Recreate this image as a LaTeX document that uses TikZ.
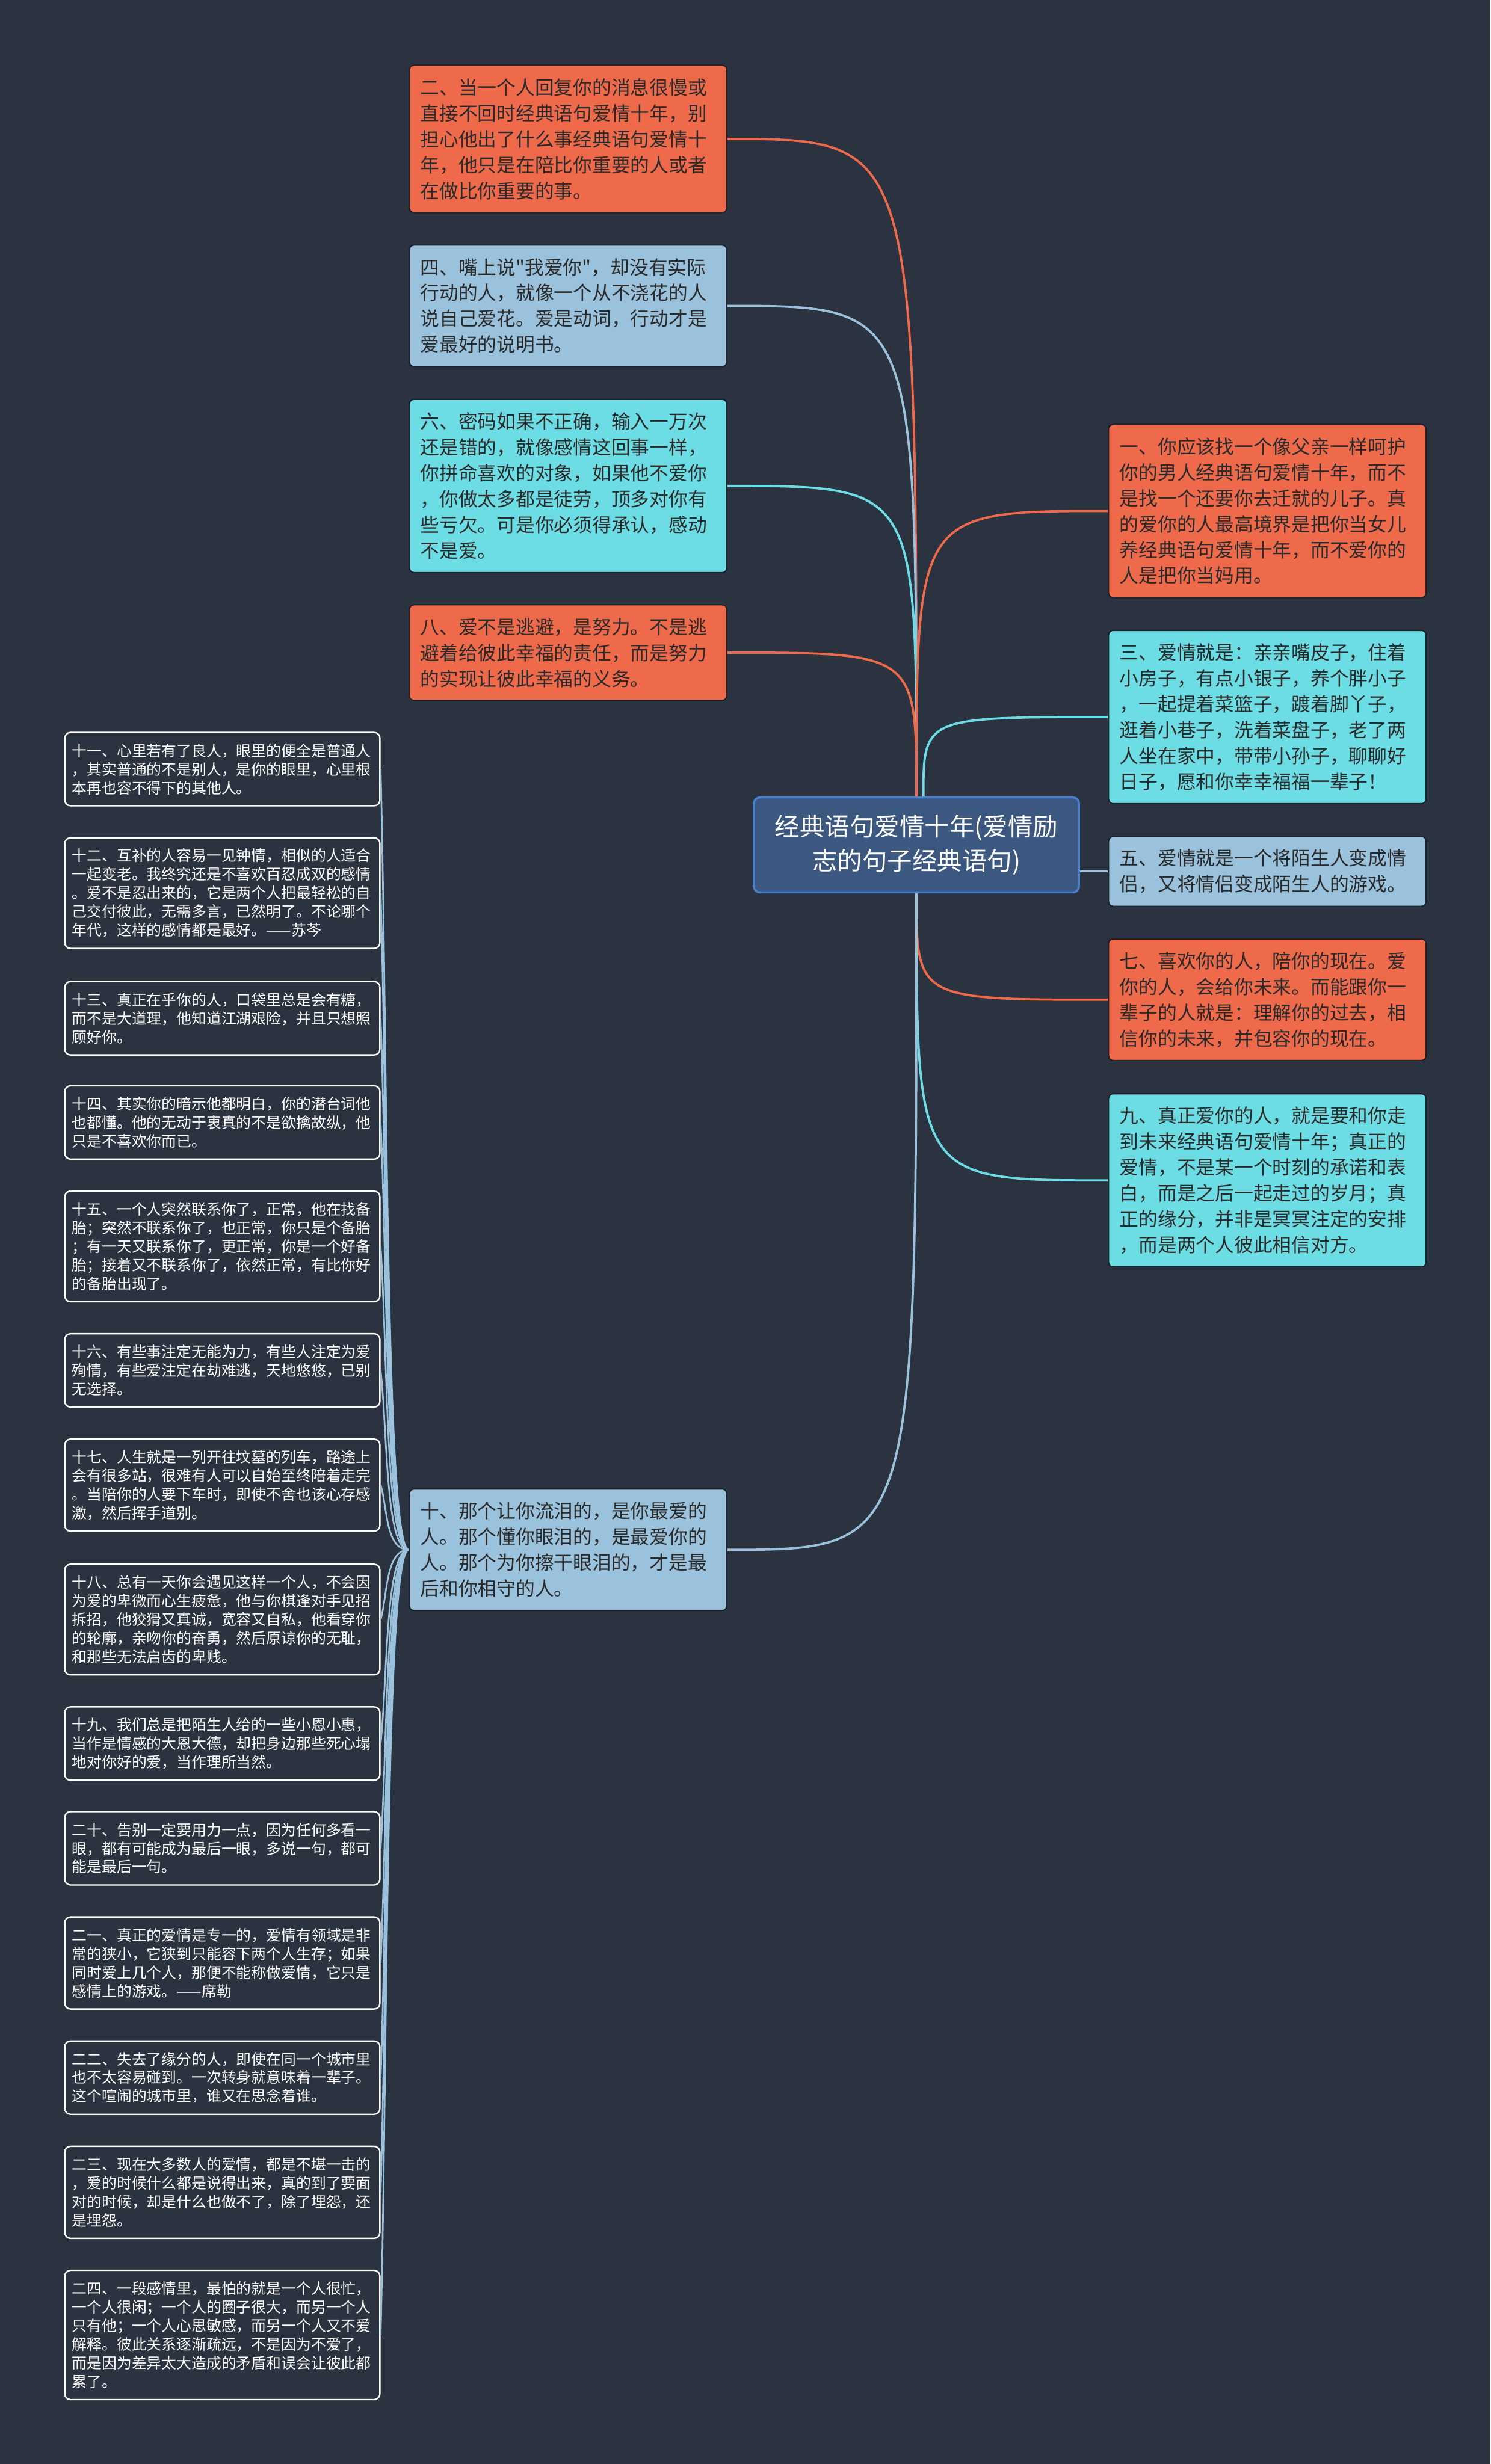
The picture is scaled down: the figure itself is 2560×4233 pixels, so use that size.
\documentclass[tikz,border=0pt]{standalone}
\usepackage{fontspec}
\setmainfont{Noto Sans CJK SC}
\newfontfamily\cjk{Noto Sans CJK SC}
\usetikzlibrary{calc}
\definecolor{bg}{HTML}{2B3240}
\definecolor{org}{HTML}{EF6A4B}
\definecolor{lbl}{HTML}{9BC2DD}
\definecolor{cyn}{HTML}{6CDDE5}
\definecolor{cfill}{HTML}{3C5880}
\definecolor{cborder}{HTML}{4A7FCC}
\definecolor{txt}{HTML}{2A2A2A}
\definecolor{edge}{HTML}{1C212B}
\begin{document}
\begin{tikzpicture}[x=0.01cm,y=-0.01cm,
  base/.style={anchor=north west, align=left, rounded corners=0.08cm,
    inner xsep=0.19cm, inner ysep=0cm, text width=5.07cm,
    font=\cjk\fontsize{9.33pt}{12.63pt}\selectfont, text=txt,
    draw=edge, line width=0.6pt, minimum height={#1*0.444cm+0.31cm}},
  boxo/.style={base=#1, fill=org},
  boxb/.style={base=#1, fill=lbl},
  boxc/.style={base=#1, fill=cyn},
  lbox/.style={anchor=north west, align=left, rounded corners=0.1cm,
    draw=white, line width=0.7pt, fill=bg, text=white,
    font=\cjk\fontsize{7.3pt}{9.1pt}\selectfont, text width=5.16cm,
    inner xsep=0.125cm, inner ysep=0cm, minimum height={#1*0.32cm+0.3cm}},
  cnode/.style={minimum width=5.58cm, minimum height=1.63cm, fill=cfill,
    draw=cborder, line width=1pt, rounded corners=0.1cm, text=white,
    align=center, font=\cjk\fontsize{12.2pt}{16.8pt}\selectfont},
  lo/.style={draw=org, line width=1.1pt},
  lb/.style={draw=lbl, line width=1.1pt},
  lc/.style={draw=cyn, line width=1.1pt},
  fan/.style={draw=lbl, line width=0.8pt}
]
\fill[bg] (0,0) rectangle (2560,4233);
\useasboundingbox (0,0) rectangle (2560,4233);

% centre
\node[cnode] (c) at (1574,1451.5) {经典语句爱情十年(爱情励\\志的句子经典语句)};

% top-left column
\node[boxo=5] (n2) at (702,111) {二、当一个人回复你的消息很慢或\\直接不回时经典语句爱情十年，别\\担心他出了什么事经典语句爱情十\\年，他只是在陪比你重要的人或者\\在做比你重要的事。};
\node[boxb=4] (n4) at (702,420) {四、嘴上说"我爱你"，却没有实际\\行动的人，就像一个从不浇花的人\\说自己爱花。爱是动词，行动才是\\爱最好的说明书。};
\node[boxc=6] (n6) at (702,685) {六、密码如果不正确，输入一万次\\还是错的，就像感情这回事一样，\\你拼命喜欢的对象，如果他不爱你\\，你做太多都是徒劳，顶多对你有\\些亏欠。可是你必须得承认，感动\\不是爱。};
\node[boxo=3] (n8) at (702,1038) {八、爱不是逃避，是努力。不是逃\\避着给彼此幸福的责任，而是努力\\的实现让彼此幸福的义务。};
\node[boxb=4] (n10) at (702,2557) {十、那个让你流泪的，是你最爱的\\人。那个懂你眼泪的，是最爱你的\\人。那个为你擦干眼泪的，才是最\\后和你相守的人。};

% right column
\node[boxo=6] (n1) at (1903,728) {一、你应该找一个像父亲一样呵护\\你的男人经典语句爱情十年，而不\\是找一个还要你去迁就的儿子。真\\的爱你的人最高境界是把你当女儿\\养经典语句爱情十年，而不爱你的\\人是把你当妈用。};
\node[boxc=6] (n3) at (1903,1082) {三、爱情就是：亲亲嘴皮子，住着\\小房子，有点小银子，养个胖小子\\，一起提着菜篮子，踱着脚丫子，\\逛着小巷子，洗着菜盘子，老了两\\人坐在家中，带带小孙子，聊聊好\\日子，愿和你幸幸福福一辈子！};
\node[boxb=2] (n5) at (1903,1436) {五、爱情就是一个将陌生人变成情\\侣，又将情侣变成陌生人的游戏。};
\node[boxo=4] (n7) at (1903,1612) {七、喜欢你的人，陪你的现在。爱\\你的人，会给你未来。而能跟你一\\辈子的人就是：理解你的过去，相\\信你的未来，并包容你的现在。};
\node[boxc=6] (n9) at (1903,1878) {九、真正爱你的人，就是要和你走\\到未来经典语句爱情十年；真正的\\爱情，不是某一个时刻的承诺和表\\白，而是之后一起走过的岁月；真\\正的缘分，并非是冥冥注定的安排\\，而是两个人彼此相信对方。};

% left column
\node[lbox=3] (m11) at (110,1257) {十一、心里若有了良人，眼里的便全是普通人\\，其实普通的不是别人，是你的眼里，心里根\\本再也容不得下的其他人。};
\node[lbox=5] (m12) at (110,1438) {十二、互补的人容易一见钟情，相似的人适合\\一起变老。我终究还是不喜欢百忍成双的感情\\。爱不是忍出来的，它是两个人把最轻松的自\\己交付彼此，无需多言，已然明了。不论哪个\\年代，这样的感情都是最好。——苏芩};
\node[lbox=3] (m13) at (110,1685) {十三、真正在乎你的人，口袋里总是会有糖，\\而不是大道理，他知道江湖艰险，并且只想照\\顾好你。};
\node[lbox=3] (m14) at (110,1864) {十四、其实你的暗示他都明白，你的潜台词他\\也都懂。他的无动于衷真的不是欲擒故纵，他\\只是不喜欢你而已。};
\node[lbox=5] (m15) at (110,2045) {十五、一个人突然联系你了，正常，他在找备\\胎；突然不联系你了，也正常，你只是个备胎\\；有一天又联系你了，更正常，你是一个好备\\胎；接着又不联系你了，依然正常，有比你好\\的备胎出现了。};
\node[lbox=3] (m16) at (110,2290) {十六、有些事注定无能为力，有些人注定为爱\\殉情，有些爱注定在劫难逃，天地悠悠，已别\\无选择。};
\node[lbox=4] (m17) at (110,2471) {十七、人生就是一列开往坟墓的列车，路途上\\会有很多站，很难有人可以自始至终陪着走完\\。当陪你的人要下车时，即使不舍也该心存感\\激，然后挥手道别。};
\node[lbox=5] (m18) at (110,2686) {十八、总有一天你会遇见这样一个人，不会因\\为爱的卑微而心生疲惫，他与你棋逢对手见招\\拆招，他狡猾又真诚，宽容又自私，他看穿你\\的轮廓，亲吻你的奋勇，然后原谅你的无耻，\\和那些无法启齿的卑贱。};
\node[lbox=3] (m19) at (110,2931) {十九、我们总是把陌生人给的一些小恩小惠，\\当作是情感的大恩大德，却把身边那些死心塌\\地对你好的爱，当作理所当然。};
\node[lbox=3] (m20) at (110,3111) {二十、告别一定要用力一点，因为任何多看一\\眼，都有可能成为最后一眼，多说一句，都可\\能是最后一句。};
\node[lbox=4] (m21) at (110,3292) {二一、真正的爱情是专一的，爱情有领域是非\\常的狭小，它狭到只能容下两个人生存；如果\\同时爱上几个人，那便不能称做爱情，它只是\\感情上的游戏。——席勒};
\node[lbox=3] (m22) at (110,3505) {二二、失去了缘分的人，即使在同一个城市里\\也不太容易碰到。一次转身就意味着一辈子。\\这个喧闹的城市里，谁又在思念着谁。};
\node[lbox=4] (m23) at (110,3686) {二三、现在大多数人的爱情，都是不堪一击的\\，爱的时候什么都是说得出来，真的到了要面\\对的时候，却是什么也做不了，除了埋怨，还\\是埋怨。};
\node[lbox=6] (m24) at (110,3899) {二四、一段感情里，最怕的就是一个人很忙，\\一个人很闲；一个人的圈子很大，而另一个人\\只有他；一个人心思敏感，而另一个人又不爱\\解释。彼此关系逐渐疏远，不是因为不爱了，\\而是因为差异太大造成的矛盾和误会让彼此都\\累了。};

% connectors from centre
\draw[lo] (c.north) .. controls (c.north |- n2.east) .. (n2.east);
\draw[lb] (c.north) .. controls (c.north |- n4.east) .. (n4.east);
\draw[lc] (c.north) .. controls (c.north |- n6.east) .. (n6.east);
\draw[lo] (c.north) .. controls (c.north |- n8.east) .. (n8.east);
\draw[lo] (c.north) .. controls (c.north |- n1.west) .. (n1.west);
\draw[lc] ($(c.north)+(12,0)$) .. controls ($(c.north |- n3.west)+(12,0)$) .. (n3.west);
\draw[lb] (n5.west -| c.east) -- (n5.west);
\draw[lo] (c.south) .. controls (c.south |- n7.west) .. (n7.west);
\draw[lc] (c.south) .. controls (c.south |- n9.west) .. (n9.west);
\draw[lb] (c.south) .. controls (c.south |- n10.east) .. (n10.east);

% fan from node ten
\foreach \m in {m11,m12,m13,m14,m15,m16,m17,m18,m19,m20,m21,m22,m23,m24}{
  \draw[fan] (n10.west) .. controls ($(n10.west)+(-40,0)$) and ($(\m.east)!0.35!(\m.east |- n10.west)+(12,0)$) .. (\m.east);
}
\end{tikzpicture}
\end{document}
